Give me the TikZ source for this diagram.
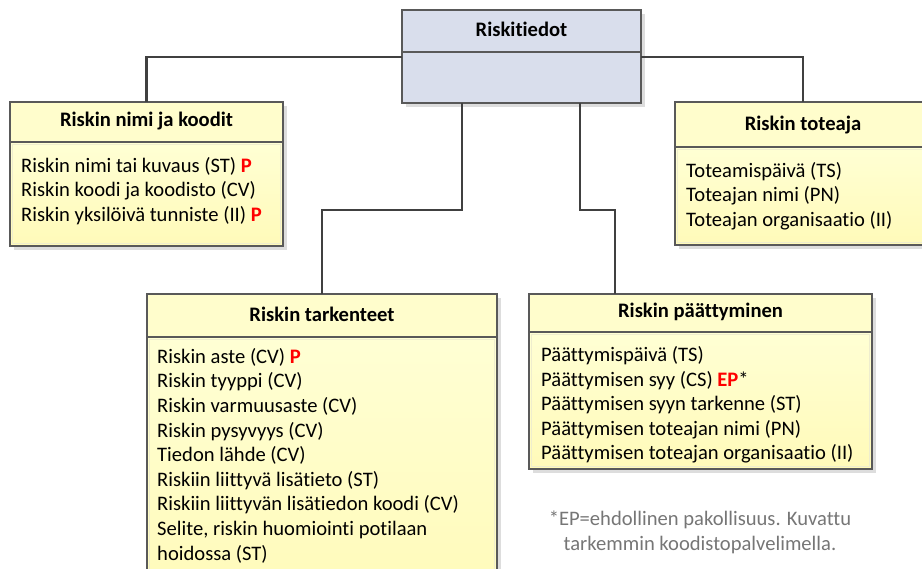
\documentclass[tikz,border=0pt]{standalone}
\usepackage{fontspec}
\setmainfont{Carlito}[Ligatures=NoCommon]
\usetikzlibrary{shadows}

\definecolor{topfill}{RGB}{217,222,236}
\definecolor{edgeclr}{RGB}{89,89,89}
\definecolor{connclr}{RGB}{64,64,64}
\definecolor{headyellow}{RGB}{255,253,204}
\definecolor{bodytop}{RGB}{255,255,212}
\definecolor{bodybottom}{RGB}{255,250,185}
\definecolor{innerclr}{RGB}{238,237,206}
\definecolor{shadowclr}{RGB}{221,221,221}
\definecolor{noteclr}{RGB}{118,118,118}
\definecolor{mandred}{RGB}{255,0,0}

\newcommand{\mand}[1]{\textcolor{mandred}{\textbf{#1}}}

\tikzset{
  conn/.style={draw=connclr, line width=2.6pt},
  boxshadow/.style={drop shadow={shadow xshift=4pt, shadow yshift=-4pt, fill=shadowclr, opacity=1}},
  framebox/.style={draw=edgeclr, line width=1.3pt, anchor=north west, inner sep=0pt, outer sep=0pt, boxshadow},
  headbox/.style={framebox, fill=headyellow},
  bodybox/.style={framebox, top color=bodytop, bottom color=bodybottom,
    path picture={\draw[innerclr, line width=1.6pt]
      ([shift={(2.6pt,-2.6pt)}]path picture bounding box.north west) rectangle
      ([shift={(-2.6pt,2.6pt)}]path picture bounding box.south east);}},
  topbox/.style={framebox, fill=topfill},
  title/.style={font=\fontsize{20.6}{24.6}\selectfont\bfseries, anchor=base, inner sep=0pt},
  % multi-line text nodes are placed by the baseline of their last line
  fields/.style={font=\fontsize{20.6}{24.6}\selectfont, align=left, anchor=base west, inner sep=0pt},
  note/.style={font=\fontsize{20.6}{24.6}\selectfont, text=noteclr, align=center, anchor=base, inner sep=0pt},
}

\begin{document}
\begin{tikzpicture}[x=1pt, y=-1pt]
\useasboundingbox (0,0) rectangle (922,569);
\clip (0,0) rectangle (922,569);

% central class
\node[topbox, minimum width=239pt, minimum height=42pt] (riskiH) at (402,10) {};
\node[topbox, minimum width=239pt, minimum height=51pt] (riskiB) at (402,52) {};
\node[title] (riskiT) at (521.5,37) {Riskitiedot};

% Riskin nimi ja koodit
\node[headbox, minimum width=273pt, minimum height=40pt] (nimiH) at (10,102) {};
\node[bodybox, minimum width=273pt, minimum height=104pt] (nimiB) at (10,142) {};
\node[title] (nimiT) at (146.5,127) {Riskin nimi ja koodit};
\node[fields] (nimiF) at (21,221.5) {Riskin nimi tai kuvaus (ST) \mand{P}\\
  Riskin koodi ja koodisto (CV)\\
  Riskin yksilöivä tunniste (II) \mand{P}};

% Riskin toteaja
\node[headbox, minimum width=256pt, minimum height=45pt] (totH) at (675,102) {};
\node[bodybox, minimum width=256pt, minimum height=98pt] (totB) at (675,147) {};
\node[title] (totT) at (803,131) {Riskin toteaja};
\node[fields] (totF) at (686,226.5) {Toteamispäivä (TS)\\
  Toteajan nimi (PN)\\
  Toteajan organisaatio (II)};

% Riskin tarkenteet
\node[headbox, minimum width=350pt, minimum height=43pt] (tarkH) at (147,294) {};
\node[bodybox, minimum width=350pt, minimum height=270pt] (tarkB) at (147,337) {};
\node[title] (tarkT) at (322,322) {Riskin tarkenteet};
\node[fields] (tarkF) at (157,560) {Riskin aste (CV) \mand{P}\\
  Riskin tyyppi (CV)\\
  Riskin varmuusaste (CV)\\
  Riskin pysyvyys (CV)\\
  Tiedon lähde (CV)\\
  Riskiin liittyvä lisätieto (ST)\\
  Riskiin liittyvän lisätiedon koodi (CV)\\
  Selite, riskin huomiointi potilaan\\
  hoidossa (ST)};

% Riskin päättyminen
\node[headbox, minimum width=343pt, minimum height=38pt] (paatH) at (529,294) {};
\node[bodybox, minimum width=343pt, minimum height=137pt] (paatB) at (529,332) {};
\node[title] (paatT) at (700.5,318) {Riskin päättyminen};
\node[fields] (paatF) at (541,460) {Päättymispäivä (TS)\\
  Päättymisen syy (CS) \mand{EP}*\\
  Päättymisen syyn tarkenne (ST)\\
  Päättymisen toteajan nimi (PN)\\
  Päättymisen toteajan organisaatio (II)};

% footnote
\node[note] (note) at (700,550) {*EP=ehdollinen pakollisuus. Kuvattu\\tarkemmin koodistopalvelimella.};

% connectors
\draw[conn] ([yshift=-5pt]riskiB.north west) -| (nimiH.north);
\draw[conn] ([yshift=-5pt]riskiB.north east) -| (totH.north);
\draw[conn] ([xshift=-59.5pt]riskiB.south) -- ++(0,107) -| (tarkH.north);
\draw[conn] ([xshift=58.5pt]riskiB.south) -- ++(0,107) -| ([xshift=86pt]paatH.north west);
\end{tikzpicture}
\end{document}
